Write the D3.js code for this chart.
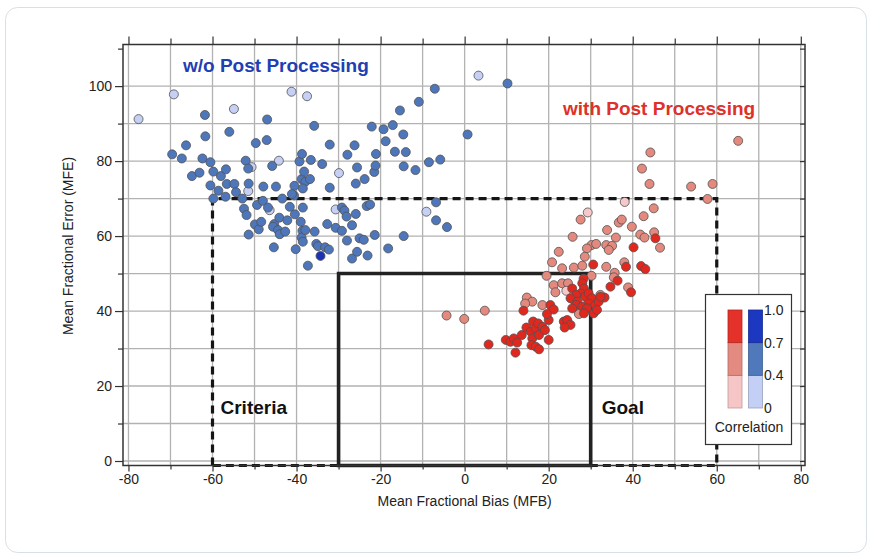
<!DOCTYPE html>
<html>
<head>
<meta charset="utf-8">
<script src="https://cdn.jsdelivr.net/npm/d3@7"></script>
<style>
  body { margin: 0; background: #fff; }
  svg text { font-family: "Liberation Sans", Arial, Helvetica, sans-serif; }
</style>
</head>
<body>
<svg id="chart" width="872" height="556"></svg>
<script>
// ---- dati (MFB, MFE) ----
// senza post processing (blu), per classe di correlazione
let blueLow = [[-77.6,91.2],[-69.2,97.8],[-54.9,93.9],[-41.2,98.5],[-37.5,97.3],[-44.2,80.1],[-50.7,78.4],
  [-51.5,72.0],[-29.9,76.8],[-30.7,67.1],[-9.1,66.5],[3.3,102.8],[-46.4,66.9]];
let blueMid = [[-61.8,92.3],[-61.7,86.6],[-56.0,87.8],[-69.6,81.8],[-67.3,80.7],[-66.3,84.2],[-62.4,80.7],
  [-60.5,79.7],[-64.9,76.0],[-63.1,76.9],[-59.8,77.2],[-58.0,76.0],[-56.8,77.8],[-60.5,73.5],[-58.6,72.1],
  [-56.6,73.9],[-54.8,73.9],[-54.4,71.7],[-56.9,70.5],[-59.8,70.0],[-52.9,70.0],[-52.1,80.1],[-51.5,78.0],
  [-51.4,74.0],[-52.5,67.3],[-51.9,65.6],[-49.7,84.8],[-47.0,91.1],[-47.1,85.6],[-47.9,73.2],[-49.4,68.3],
  [-48.0,69.4],[-46.8,67.6],[-49.9,63.1],[-49.0,61.8],[-48.4,63.8],[-51.4,60.4],[-44.9,73.2],[-45.8,78.7],
  [-43.4,70.0],[-45.3,63.2],[-45.6,62.5],[-44.1,64.9],[-44.4,61.6],[-44.0,60.5],[-42.7,61.2],[-42.2,64.2],
  [-45.4,57.0],[-41.6,67.8],[-40.4,65.8],[-40.6,70.8],[-40.5,73.4],[-41.1,71.2],[-39.3,79.9],[-38.7,81.9],
  [-38.8,75.2],[-38.2,77.2],[-37.9,74.5],[-36.8,75.2],[-36.6,80.3],[-38.5,72.7],[-38.5,67.6],[-39.0,63.8],
  [-38.6,61.4],[-38.8,59.6],[-38.5,58.5],[-37.9,61.6],[-35.7,61.2],[-40.2,56.5],[-37.3,52.1],[-35.8,89.4],
  [-33.9,79.2],[-32.1,84.4],[-32.1,72.9],[-32.7,63.2],[-35.3,57.9],[-34.9,57.3],[-33.2,57.0],[-32.3,56.4],
  [-30.7,62.2],[-29.2,61.4],[-29.2,67.6],[-28.6,66.8],[-28.1,65.2],[-28.0,58.8],[-26.8,62.9],[-25.9,65.9],
  [-26.8,54.0],[-25.6,55.8],[-23.1,54.8],[-25.0,59.4],[-24.0,59.0],[-27.9,81.7],[-26.2,84.2],[-25.6,78.3],
  [-25.9,74.0],[-23.8,75.2],[-22.1,89.2],[-21.5,77.1],[-21.1,81.9],[-21.2,78.8],[-23.3,68.0],[-22.5,68.4],
  [-21.4,60.3],[-19.3,88.5],[-18.8,85.3],[-17.1,89.6],[-18.2,56.7],[-16.6,82.5],[-15.4,93.5],[-14.6,87.1],
  [-14.0,82.4],[-14.5,78.6],[-11.7,77.6],[-10.9,95.8],[-8.5,79.7],[-7.1,99.3],[-5.8,80.4],[-6.8,69.0],
  [-6.8,64.2],[-4.2,62.4],[-14.5,60.0],[0.7,87.1],[10.2,100.7]];
let blueHigh = [[-34.3,54.7]];

// con post processing (rosso)
let redLow = [[38.1,69.1],[29.3,66.3],[24.2,45.4]];
let redMid = [[65.1,85.4],[44.2,82.3],[42.2,78.0],[44.0,73.9],[53.9,73.2],[59.0,73.9],[57.8,69.9],[27.6,64.4],
  [45.0,67.4],[42.6,65.3],[36.7,63.6],[37.4,64.4],[39.8,62.5],[33.9,61.6],[36.0,59.6],[41.8,60.4],[42.8,59.6],
  [45.1,61.0],[46.5,56.9],[25.7,59.8],[22.4,55.8],[20.8,53.0],[23.2,51.4],[26.0,51.6],[28.0,52.1],[30.2,57.6],
  [31.3,57.9],[29.1,56.7],[28.6,54.5],[33.7,57.6],[35.1,57.4],[34.3,56.3],[33.7,51.8],[35.7,50.2],[35.5,49.0],
  [38.0,53.0],[38.9,46.3],[19.5,49.4],[30.2,49.4],[21.2,46.9],[23.2,47.4],[24.6,47.4],[21.6,45.0],[32.3,44.3],
  [18.5,41.6],[-4.3,38.8],[-0.1,37.9],[4.8,40.1],[14.8,43.6],[16.1,42.5],[14.4,42.0],[27.2,39.2],[25.9,43.0]];
let redHigh = [[45.4,59.4],[40.2,57.0],[30.6,52.4],[36.4,48.1],[34.7,46.5],[38.4,51.8],[42.0,52.0],[43.0,51.2],
  [39.6,45.0],[33.3,43.6],[28.3,48.6],[28.0,47.4],[28.4,46.0],[27.6,44.7],[25.6,46.0],[26.5,44.3],[28.7,43.8],
  [29.5,44.7],[30.3,43.4],[25.2,43.4],[26.8,42.5],[29.5,42.0],[31.1,41.6],[31.9,42.5],[32.3,43.8],[26.5,41.6],
  [28.0,41.2],[29.1,40.7],[25.6,40.7],[30.7,39.4],[31.5,40.3],[28.4,39.4],[5.7,31.1],[9.8,32.3],[10.9,31.8],
  [11.7,32.7],[12.5,31.6],[12.1,28.9],[13.6,33.6],[14.7,35.6],[14.0,40.1],[15.7,34.5],[16.1,32.7],[16.3,37.2],
  [16.9,35.4],[17.5,36.7],[17.7,33.6],[15.9,30.9],[16.9,30.5],[17.7,29.8],[18.5,35.8],[19.1,34.9],[20.0,37.6],
  [20.0,32.3],[20.4,41.6],[21.2,40.4],[23.6,37.2],[24.4,37.6],[25.2,36.3],[23.8,35.6],[19.6,39.2]];

// tick e legenda
let xMajor = [-80, -60, -40, -20, 0, 20, 40, 60, 80];
let xMinor = [-70, -50, -30, -10, 10, 30, 50, 70];
let yMajor = [0, 20, 40, 60, 80, 100];
let yMinor = [10, 30, 50, 70, 90, 110];
let legendTicks = ["0", "0.4", "0.7", "1.0"];
let redShades = ["#f6c6c7", "#e38b80", "#e4322a"];
let blueShades = ["#c4cff6", "#5079bb", "#1c38c0"];

// aree obiettivo: criteria (tratteggiata) e goal (continua)
let criteria = { x: [-60, 60], y: 70 };
let goal = { x: [-30, 30], y: 50 };

let svg = d3.select("#chart");

// cornice esterna
svg.append("rect")
  .attr("x", 5.5).attr("y", 7.5).attr("width", 861).attr("height", 545)
  .attr("rx", 12)
  .style("fill", "#fff").style("stroke", "#d7dfe7").style("stroke-width", 1);

let x = d3.scaleLinear().domain([-81.3, 81.0]).range([123, 805]);
let y = d3.scaleLinear().domain([-1.2, 111.1]).range([465.5, 44.5]);
let [x0, x1] = x.domain();
let [y0, y1] = y.domain();

// griglia
let grid = svg.append("g").style("stroke", "#b2b2b2").style("stroke-width", 1.3);
grid.selectAll("line.v")
  .data(xMajor.concat(xMinor))
  .enter().append("line")
  .attr("x1", d => x(d)).attr("x2", d => x(d))
  .attr("y1", y(y0)).attr("y2", y(y1));
grid.selectAll("line.h")
  .data(yMajor.concat(yMinor.filter(d => d < 110)))
  .enter().append("line")
  .attr("x1", x(x0)).attr("x2", x(x1))
  .attr("y1", d => y(d)).attr("y2", d => y(d));

// box criteria tratteggiato
svg.append("path")
  .attr("d", `M${x(criteria.x[0])},${y(y0)} V${y(criteria.y)} H${x(criteria.x[1])} V${y(y0)} Z`)
  .style("fill", "none").style("stroke", "#151515")
  .style("stroke-width", 3.2).style("stroke-dasharray", "8,5");

// box goal continuo
svg.append("path")
  .attr("d", `M${x(goal.x[0])},${y(y0)} V${y(goal.y)} H${x(goal.x[1])} V${y(y0)} Z`)
  .style("fill", "none").style("stroke", "#222").style("stroke-width", 3.6);

// assi
function styleAxis(g) {
  g.select(".domain").remove();
  g.selectAll(".tick line").style("stroke", "#333").style("stroke-width", 1.2);
  g.selectAll(".tick text")
    .style("font-size", "14px").style("fill", "#222")
    .style("font-family", '"Liberation Sans", Arial, sans-serif');
}
let fmt = d => String(d);

svg.append("g").attr("transform", `translate(0,${y(y0)})`)
  .call(d3.axisBottom(x).tickValues(xMajor).tickSize(6).tickPadding(3).tickFormat(fmt)).call(styleAxis);
svg.append("g").attr("transform", `translate(0,${y(y0)})`)
  .call(d3.axisBottom(x).tickValues(xMinor).tickSize(4).tickFormat("")).call(styleAxis);
svg.append("g").attr("transform", `translate(0,${y(y1)})`)
  .call(d3.axisTop(x).tickValues(xMajor).tickSize(8).tickFormat("")).call(styleAxis);
svg.append("g").attr("transform", `translate(0,${y(y1)})`)
  .call(d3.axisTop(x).tickValues(xMinor).tickSize(6).tickFormat("")).call(styleAxis);

svg.append("g").attr("transform", `translate(${x(x0)},0)`)
  .call(d3.axisLeft(y).tickValues(yMajor).tickSize(8).tickPadding(3).tickFormat(fmt)).call(styleAxis);
svg.append("g").attr("transform", `translate(${x(x0)},0)`)
  .call(d3.axisLeft(y).tickValues(yMinor).tickSize(5).tickFormat("")).call(styleAxis);
svg.append("g").attr("transform", `translate(${x(x1)},0)`)
  .call(d3.axisRight(y).tickValues(yMajor.concat(yMinor)).tickSize(-5).tickFormat("")).call(styleAxis);

// cornice del grafico
svg.append("rect")
  .attr("x", x(x0)).attr("y", y(y1))
  .attr("width", x(x1) - x(x0)).attr("height", y(y0) - y(y1))
  .style("fill", "none").style("stroke", "#333").style("stroke-width", 1.5);

// punti
let groups = [
  { data: blueLow, fill: "#c6d0f5" },
  { data: blueMid, fill: "#4e77bb" },
  { data: blueHigh, fill: "#1a33b6" },
  { data: redMid, fill: "#e3897e" },
  { data: redLow, fill: "#f5c8c9" },
  { data: redHigh, fill: "#e1281f" }
];
groups.forEach(gr => {
  svg.append("g").selectAll("circle")
    .data(gr.data)
    .enter().append("circle")
    .attr("cx", d => x(d[0]))
    .attr("cy", d => y(d[1]))
    .attr("r", 4.5)
    .style("fill", gr.fill)
    .style("stroke", "#505050")
    .style("stroke-width", 0.8);
});

// etichette
function label(txt, px, py, color, size, weight) {
  svg.append("text").text(txt)
    .attr("x", px).attr("y", py)
    .style("fill", color).style("font-size", size + "px").style("font-weight", weight || "normal");
}
label("w/o Post Processing", 183, 72, "#1f40b4", 19, "bold");
label("with Post Processing", 563, 115, "#de3129", 19, "bold");
label("Criteria", x(criteria.x[0]) + 8, 414, "#111", 19, "bold");
label("Goal", x(goal.x[1]) + 11, 414, "#111", 19, "bold");

svg.append("text").text("Mean Fractional Bias (MFB)")
  .attr("x", x(0)).attr("y", 506)
  .style("text-anchor", "middle").style("font-size", "14px").style("fill", "#222");
svg.append("text").text("Mean Fractional Error (MFE)")
  .attr("transform", "translate(73,246) rotate(-90)")
  .style("text-anchor", "middle").style("font-size", "14px").style("fill", "#222");

// legenda correlazione
let leg = svg.append("g");
leg.append("rect")
  .attr("x", 705.5).attr("y", 294.5).attr("width", 86).attr("height", 150)
  .style("fill", "#fff").style("stroke", "#333").style("stroke-width", 1.2);
let legY = d3.scalePoint().domain(legendTicks).range([408, 310]);
[[redShades, 728], [blueShades, 748.5]].forEach(([shades, lx]) => {
  leg.selectAll(null)
    .data(shades)
    .enter().append("rect")
    .attr("x", lx).attr("width", 14)
    .attr("y", (d, i) => legY(legendTicks[i + 1]))
    .attr("height", (d, i) => legY(legendTicks[i]) - legY(legendTicks[i + 1]))
    .style("fill", d => d)
    .style("stroke", d => d3.color(d).darker(0.7))
    .style("stroke-width", 0.8);
});
leg.selectAll("text.tk")
  .data(legendTicks)
  .enter().append("text")
  .attr("x", 764).attr("y", d => legY(d) + 5)
  .text(d => d)
  .style("font-size", "14px").style("fill", "#222");
leg.append("text").text("Correlation")
  .attr("x", 749).attr("y", 432)
  .style("text-anchor", "middle").style("font-size", "14px").style("fill", "#222");
</script>
</body>
</html>
